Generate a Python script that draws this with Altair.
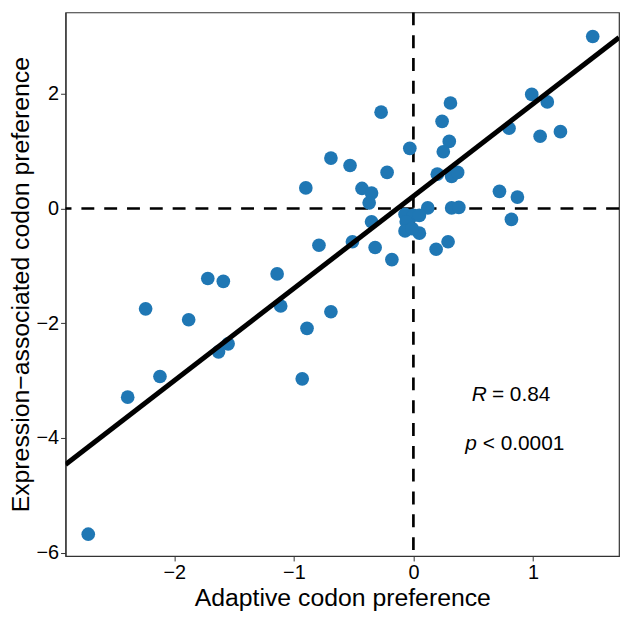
import altair as alt
import numpy as np
import pandas as pd

adaptive = [1.50, 0.99, 1.12, 0.31, -0.27, 0.24, 0.80, 1.23, 1.06, 0.30,
            0.25, -0.03, -0.69, -0.53, -0.22, 0.20, 0.32, 0.37, -0.43, -0.35,
            -0.37, 0.72, 0.87, 0.12, 0.32, 0.38, 0.82, -0.35, -0.07, 0.00,
            0.05, -0.06, -0.07, 0.05, -0.01, -0.51, -0.32, 0.29, 0.19, -0.18,
            -0.90, -0.79, -1.72, -1.59, -1.14, -2.24, -1.88, -1.11, -0.69, -0.89,
            -1.55, -1.63, -2.12, -0.93, -2.39, -2.72]
expression = [3.00, 1.99, 1.86, 1.84, 1.68, 1.52, 1.40, 1.34, 1.26, 1.17,
              0.99, 1.05, 0.88, 0.75, 0.63, 0.60, 0.56, 0.63, 0.35, 0.27,
              0.10, 0.30, 0.20, 0.01, 0.01, 0.02, -0.19, -0.23, -0.10, -0.12,
              -0.12, -0.23, -0.39, -0.43, -0.35, -0.58, -0.68, -0.58, -0.71, -0.89,
              0.36, -0.64, -1.22, -1.27, -1.14, -1.75, -1.94, -1.70, -1.80, -2.09,
              -2.36, -2.50, -2.93, -2.97, -3.29, -5.68]

x_domain = [-2.91, 1.72]
y_domain = [-6.06, 3.42]
x_ticks = [-2, -1, 0, 1]
y_ticks = [-6, -4, -2, 0, 2]

df = pd.DataFrame({"x": adaptive, "y": expression})
FONT = "Liberation Sans"

# reduced major axis fit computed from the data
xa, ya = np.array(adaptive), np.array(expression)
r = np.corrcoef(xa, ya)[0, 1]
slope = np.sign(r) * ya.std() / xa.std()
intercept = ya.mean() - slope * xa.mean()
fit = pd.DataFrame({"x": x_domain})
fit["y"] = intercept + slope * fit["x"]

one = pd.DataFrame({"k": [0]})

xs = alt.Scale(domain=x_domain, nice=False, zero=False)
ys = alt.Scale(domain=y_domain, nice=False, zero=False)

points = alt.Chart(df).mark_circle(size=190, opacity=1, color="#1f77b4").encode(
    x=alt.X("x:Q", scale=xs, title="Adaptive codon preference",
            axis=alt.Axis(values=x_ticks, grid=False, format="d")),
    y=alt.Y("y:Q", scale=ys, title="Expression\u2212associated codon preference",
            axis=alt.Axis(values=y_ticks, grid=False, format="d")),
)

dash = dict(color="black", strokeWidth=2.7, strokeDash=[13, 10])
vline = alt.Chart(one).mark_rule(**dash).encode(x=alt.datum(0, scale=xs))
hline = alt.Chart(one).mark_rule(**dash).encode(y=alt.datum(0, scale=ys))

reg = alt.Chart(fit).mark_line(color="black", strokeWidth=5, clip=True).encode(
    x=alt.X("x:Q", scale=xs), y=alt.Y("y:Q", scale=ys))

txt_style = dict(font=FONT, fontSize=21, color="black", baseline="middle")
r1 = alt.Chart(one).mark_text(align="right", fontStyle="italic", **txt_style).encode(
    x=alt.datum(0.615, scale=xs), y=alt.datum(-3.25, scale=ys), text=alt.value("R"))
r2 = alt.Chart(one).mark_text(align="left", dx=5, **txt_style).encode(
    x=alt.datum(0.615, scale=xs), y=alt.datum(-3.25, scale=ys), text=alt.value("= 0.84"))
p1 = alt.Chart(one).mark_text(align="right", fontStyle="italic", **txt_style).encode(
    x=alt.datum(0.53, scale=xs), y=alt.datum(-4.1, scale=ys), text=alt.value("p"))
p2 = alt.Chart(one).mark_text(align="left", dx=6, **txt_style).encode(
    x=alt.datum(0.53, scale=xs), y=alt.datum(-4.1, scale=ys), text=alt.value("< 0.0001"))

chart = alt.layer(vline, hline, points, reg, r1, r2, p1, p2).properties(
    width=558, height=548, padding={"left": 0, "top": 0, "right": 0, "bottom": 0}
).configure_view(stroke="#333", strokeWidth=1.2).configure_axis(
    labelFont=FONT, titleFont=FONT, labelFontSize=20, titleFontSize=25,
    labelColor="black", titleColor="black", titleFontWeight="normal",
    domainColor="#333", domainWidth=1.2, tickColor="#333", tickSize=5,
    labelPadding=2, titlePadding=3
)

chart.save("out.html", embed_options={"renderer": "svg", "actions": False})
